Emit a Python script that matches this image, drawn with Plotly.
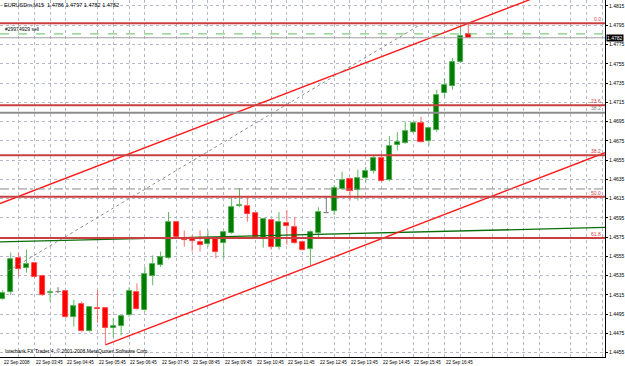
import plotly.graph_objects as go

# ---------------- data ----------------
bar_idx = list(range(60))
opens = [1.4511, 1.4518, 1.4553, 1.4543, 1.4548, 1.4535, 1.4517, 1.4518, 1.4519, 1.4492,
         1.4506, 1.4477, 1.4501, 1.4501, 1.4481, 1.4483, 1.4494, 1.4518, 1.4499, 1.4535,
         1.4546, 1.4553, 1.4591, 1.4573, 1.4573, 1.4570, 1.4568, 1.4574, 1.4569, 1.4579,
         1.4607, 1.4607, 1.4600, 1.4574, 1.4593, 1.4565, 1.4590, 1.4585, 1.4570, 1.4563,
         1.4579, 1.4600, 1.4602, 1.4625, 1.4635, 1.4624, 1.4636, 1.4644, 1.4657, 1.4634,
         1.4671, 1.4673, 1.4684, 1.4693, 1.4675, 1.4686, 1.4725, 1.4732, 1.4757, 1.4786]
highs = [1.4520, 1.4559, 1.4559, 1.4562, 1.4549, 1.4536, 1.4521, 1.4523, 1.4520, 1.4510,
         1.4508, 1.4502, 1.4520, 1.4502, 1.4491, 1.4494, 1.4523, 1.4527, 1.4544, 1.4556,
         1.4560, 1.4601, 1.4592, 1.4582, 1.4577, 1.4582, 1.4582, 1.4575, 1.4582, 1.4616,
         1.4626, 1.4617, 1.4601, 1.4595, 1.4594, 1.4601, 1.4603, 1.4596, 1.4571, 1.4582,
         1.4606, 1.4617, 1.4629, 1.4643, 1.4637, 1.4645, 1.4648, 1.4660, 1.4662, 1.4680,
         1.4684, 1.4695, 1.4695, 1.4700, 1.4689, 1.4728, 1.4740, 1.4761, 1.4795, 1.4797]
lows = [1.4510, 1.4515, 1.4534, 1.4538, 1.4533, 1.4514, 1.4508, 1.4517, 1.4491, 1.4482,
        1.4476, 1.4476, 1.4486, 1.4464, 1.4471, 1.4473, 1.4492, 1.4499, 1.4497, 1.4525,
        1.4544, 1.4552, 1.4574, 1.4565, 1.4560, 1.4560, 1.4565, 1.4553, 1.4553, 1.4578,
        1.4606, 1.4591, 1.4574, 1.4564, 1.4562, 1.4562, 1.4567, 1.4568, 1.4561, 1.4546,
        1.4575, 1.4600, 1.4598, 1.4624, 1.4613, 1.4613, 1.4632, 1.4641, 1.4632, 1.4633,
        1.4665, 1.4672, 1.4683, 1.4673, 1.4670, 1.4684, 1.4720, 1.4728, 1.4756, 1.4782]
closes = [1.4517, 1.4552, 1.4542, 1.4547, 1.4534, 1.4515, 1.4518, 1.4518, 1.4492, 1.4503,
          1.4477, 1.4502, 1.4500, 1.4481, 1.4483, 1.4493, 1.4519, 1.4500, 1.4537, 1.4547,
          1.4554, 1.4591, 1.4575, 1.4572, 1.4571, 1.4567, 1.4573, 1.4560, 1.4580, 1.4606,
          1.4608, 1.4599, 1.4575, 1.4594, 1.4565, 1.4591, 1.4587, 1.4569, 1.4562, 1.4580,
          1.4601, 1.4600, 1.4626, 1.4634, 1.4623, 1.4636, 1.4644, 1.4657, 1.4633, 1.4670,
          1.4674, 1.4685, 1.4693, 1.4674, 1.4688, 1.4723, 1.4733, 1.4757, 1.4784, 1.4782]

time_label_bars = [0, 4, 8, 12, 16, 20, 24, 28, 32, 36, 40, 44, 48, 52, 56]
time_labels = ["22 Sep 2008", "22 Sep 03:45", "22 Sep 04:45", "22 Sep 05:45", "22 Sep 06:45",
               "22 Sep 07:45", "22 Sep 08:45", "22 Sep 09:45", "22 Sep 10:45", "22 Sep 11:45",
               "22 Sep 12:45", "22 Sep 13:45", "22 Sep 14:45", "22 Sep 15:45", "22 Sep 16:45"]

price_ticks = [1.4815, 1.4795, 1.4775, 1.4755, 1.4735, 1.4715, 1.4695, 1.4675, 1.4655, 1.4635,
               1.4615, 1.4595, 1.4575, 1.4555, 1.4535, 1.4515, 1.4495, 1.4475, 1.4455]
price_tick_labels = ["1.4815", "1.4795", "1.4775", "1.4755", "1.4735", "1.4715", "1.4695",
                     "1.4675", "1.4655", "1.4635", "1.4615", "1.4595", "1.4575", "1.4555",
                     "1.4535", "1.4515", "1.4495", "1.4475", "1.4455"]

fib_names = ["0.0", "23.6", "38.2", "50.0", "61.8"]
fib_prices = [1.4797, 1.4712, 1.4660, 1.4617, 1.4574]
gray_level_name = "38.2"
gray_level_price = 1.4704
gray_dashdot_price = 1.4625
order_price = 1.4786
order_text = "#29974929 sell"
bid_price = 1.4782
bid_text = "1.4782"
title_text = "EURUSDm,M15  1.4786 1.4797 1.4782 1.4782"
copyright_text = "Interbank FX Trader 4, \u00a9 2001-2008 MetaQuotes Software Corp."

# trend lines: anchor points (bar index, price)
green_trend_x = [-0.35, 76.3]
green_trend_y = [1.4570, 1.4585]
chan_low_x = [13, 59]
chan_low_y = [1.4463, 1.4608]
chan_high_x = [13, 59]
chan_high_y = [1.4652, 1.4797]
dotted_x = [0.7, 52.6]
dotted_y = [1.4540, 1.4794]

x_range = [-0.355, 76.32]
y_range = [1.44505, 1.48212]

# ---------------- figure ----------------
fig = go.Figure()

def extend(xs, ys, x0, x1):
    k = (ys[1] - ys[0]) / (xs[1] - xs[0])
    return [x0, x1], [ys[0] + k * (x0 - xs[0]), ys[0] + k * (x1 - xs[0])]

GREEN_BODY, GREEN_EDGE, GREEN_WICK = "#007d00", "#45a845", "#62b862"
RED_BODY, RED_EDGE, RED_WICK = "#ff0000", "#ff3a3a", "#ff7070"
GRAY = "#7a7a7a"

base, height, fill, edge = [], [], [], []
wick = {"g": ([], []), "r": ([], []), "n": ([], [])}
for i, o, h, l, c in zip(bar_idx, opens, highs, lows, closes):
    top, bot = max(o, c), min(o, c)
    kind = "g" if c > o else ("r" if c < o else "n")
    base.append(bot)
    height.append(max(top - bot, 0.00005))
    fill.append({"g": GREEN_BODY, "r": RED_BODY, "n": GRAY}[kind])
    edge.append({"g": GREEN_EDGE, "r": RED_EDGE, "n": GRAY}[kind])
    wx, wy = wick[kind]
    wx += [i, i, None, i, i, None]
    wy += [h, top, None, bot, l, None]

for kind, col in (("g", GREEN_WICK), ("r", RED_WICK), ("n", GRAY)):
    wx, wy = wick[kind]
    fig.add_trace(go.Scatter(x=wx, y=wy, mode="lines", line=dict(color=col, width=1),
                             hoverinfo="skip", showlegend=False))

fig.add_trace(go.Bar(x=bar_idx, y=height, base=base, width=0.64,
                     marker=dict(color=fill, line=dict(color=edge, width=0.8)),
                     showlegend=False, hoverinfo="skip"))

# trend lines
tx, ty = extend(green_trend_x, green_trend_y, x_range[0], x_range[1])
fig.add_trace(go.Scatter(x=tx, y=ty, mode="lines", line=dict(color="#0a6e0a", width=1.3),
                         showlegend=False, hoverinfo="skip"))
tx, ty = extend(chan_low_x, chan_low_y, chan_low_x[0], x_range[1])
fig.add_trace(go.Scatter(x=tx, y=ty, mode="lines", line=dict(color="#ff1a1a", width=1.4),
                         showlegend=False, hoverinfo="skip"))
tx, ty = extend(chan_high_x, chan_high_y, x_range[0], x_range[1])
fig.add_trace(go.Scatter(x=tx, y=ty, mode="lines", line=dict(color="#ff1a1a", width=1.4),
                         showlegend=False, hoverinfo="skip"))
fig.add_trace(go.Scatter(x=dotted_x, y=dotted_y, mode="lines",
                         line=dict(color="#909090", width=1, dash="dot"),
                         showlegend=False, hoverinfo="skip"))

# horizontal levels
shapes = []
def hline(y, color, width, dash="solid"):
    shapes.append(dict(type="line", xref="paper", x0=0, x1=1, yref="y", y0=y, y1=y,
                       line=dict(color=color, width=width, dash=dash), layer="above"))

for p in fib_prices:
    hline(p, "#c94040", 2)
hline(gray_level_price, "#8c8c8c", 2)
hline(gray_dashdot_price, "#8a8a8a", 1, "dashdot")
hline(order_price, "#5ec05e", 1, "dash")
hline(bid_price, "#a0a0a0", 1)

FONT = "Liberation Sans"
ann = []
for n, p in zip(fib_names, fib_prices):
    ann.append(dict(x=0.997, xref="paper", y=p, yref="y", text=n, showarrow=False,
                    xanchor="right", yanchor="bottom", yshift=-1,
                    font=dict(size=5, color="#d04040", family=FONT)))
ann.append(dict(x=0.997, xref="paper", y=gray_level_price, yref="y", text=gray_level_name,
                showarrow=False, xanchor="right", yanchor="bottom", yshift=0,
                font=dict(size=5, color="#808080", family=FONT)))
ann.append(dict(x=0.005, xref="paper", y=order_price, yref="y", text=order_text,
                showarrow=False, xanchor="left", yanchor="bottom",
                font=dict(size=5, color="black", family=FONT)))
ann.append(dict(x=1.0, xref="paper", y=bid_price, yref="y", text=bid_text, showarrow=False,
                xanchor="left", yanchor="middle", xshift=1, bgcolor="black",
                borderpad=0, font=dict(size=5, color="white", family=FONT)))
ann.append(dict(x=0.004, xref="paper", y=0.986, yref="paper", text=title_text,
                showarrow=False, xanchor="left", yanchor="middle",
                font=dict(size=5.5, color="black", family=FONT)))
ann.append(dict(x=0.005, xref="paper", y=0.004, yref="paper", text=copyright_text,
                showarrow=False, xanchor="left", yanchor="bottom",
                font=dict(size=5, color="black", family=FONT)))
# time-axis labels, left-aligned at their bar as MetaTrader draws them
for b, t in zip(time_label_bars, time_labels):
    ann.append(dict(x=b - 0.1, xref="x", y=0, yref="paper", text=t, showarrow=False,
                    xanchor="left", yanchor="top", yshift=-1,
                    font=dict(size=4.5, color="black", family=FONT)))

fig.update_layout(
    width=625, height=366,
    margin=dict(l=0, r=20, t=0, b=9),
    paper_bgcolor="white", plot_bgcolor="white",
    shapes=shapes, annotations=ann, bargap=0, showlegend=False,
    xaxis=dict(range=x_range, showgrid=False, zeroline=False, showticklabels=False,
               ticks="", showline=True, linecolor="black", linewidth=1, mirror=True,
               minor=dict(tick0=0, dtick=2, showgrid=True, gridcolor="#b4b8c8",
                          griddash="dot", gridwidth=1, ticks="")),
    yaxis=dict(range=y_range, side="right", tickvals=price_ticks, ticktext=price_tick_labels,
               showgrid=True, gridcolor="#b4b8c8", griddash="dot", gridwidth=1,
               zeroline=False, ticks="outside", ticklen=2, tickcolor="black",
               tickfont=dict(size=5, color="black", family=FONT),
               showline=True, linecolor="black", linewidth=1, mirror=True),
)

fig.write_html("out.html")
